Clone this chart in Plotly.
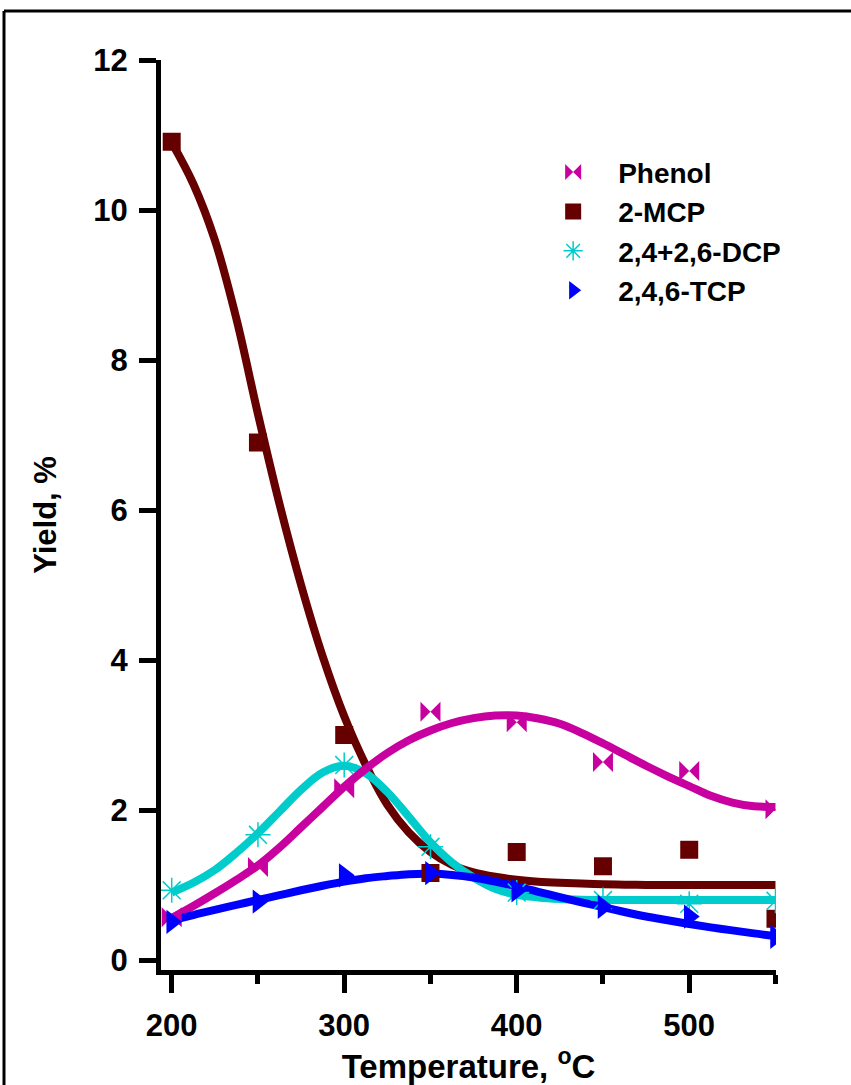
import plotly.graph_objects as go

# Measured yields (%) vs reactor temperature (deg C)
temps = [200, 250, 300, 350, 400, 450, 500, 550]
phenol = [0.57, 1.24, 2.29, 3.31, 3.17, 2.64, 2.52, 2.01]
mcp = [10.91, 6.90, 3.00, 1.16, 1.44, 1.25, 1.47, 0.55]
dcp = [0.93, 1.67, 2.60, 1.51, 0.90, 0.80, 0.75, 0.79]
tcp = [0.51, 0.78, 1.13, 1.16, 0.93, 0.71, 0.58, 0.31]

# Smoothed trend curves, sampled every 12.5 deg C
fit_t = [200, 212.5, 225, 237.5, 250, 262.5, 275, 287.5, 300, 312.5, 325, 337.5,
         350, 362.5, 375, 387.5, 400, 412.5, 425, 437.5, 450, 462.5, 475, 487.5,
         500, 512.5, 525, 537.5, 550]
phenol_fit = [0.56, 0.72, 0.89, 1.07, 1.26, 1.50, 1.77, 2.04, 2.31, 2.55, 2.76, 2.93,
              3.06, 3.16, 3.225, 3.26, 3.26, 3.22, 3.15, 3.03, 2.89, 2.74, 2.59, 2.45,
              2.32, 2.19, 2.10, 2.05, 2.04]
mcp_fit = [10.90, 10.35, 9.60, 8.55, 7.28, 6.08, 5.00, 4.05, 3.25, 2.60, 2.07, 1.70,
           1.44, 1.27, 1.17, 1.11, 1.07, 1.045, 1.03, 1.02, 1.01, 1.005, 1.0, 1.0,
           1.0, 1.0, 1.0, 1.0, 1.0]
dcp_fit = [0.90, 1.03, 1.20, 1.43, 1.69, 1.98, 2.27, 2.50, 2.59, 2.49, 2.24, 1.91,
           1.57, 1.30, 1.10, 0.95, 0.87, 0.835, 0.815, 0.805, 0.80, 0.80, 0.80, 0.80,
           0.80, 0.80, 0.80, 0.80, 0.80]
tcp_fit = [0.53, 0.60, 0.67, 0.735, 0.80, 0.865, 0.93, 0.99, 1.045, 1.09, 1.12, 1.145,
           1.15, 1.135, 1.10, 1.045, 0.98, 0.91, 0.84, 0.77, 0.705, 0.64, 0.58, 0.53,
           0.48, 0.435, 0.395, 0.355, 0.32]

names = ["Phenol", "2-MCP", "2,4+2,6-DCP", "2,4,6-TCP"]
colors = ["#C800A0", "#660000", "#00CCCC", "#0000FF"]

FONT = "Liberation Sans, Arial, sans-serif"

fig = go.Figure()

# trend lines (drawn first, underneath the markers)
for ys, c in [(mcp_fit, colors[1]), (dcp_fit, colors[2]),
              (phenol_fit, colors[0]), (tcp_fit, colors[3])]:
    fig.add_trace(go.Scatter(
        x=fit_t, y=ys, mode="lines", showlegend=False, hoverinfo="skip",
        line=dict(color=c, width=8, shape="spline", smoothing=1.0),
    ))

# data markers
marker_styles = [
    dict(symbol="bowtie", size=20, color=colors[0]),
    dict(symbol="square", size=18, color=colors[1]),
    dict(symbol="asterisk-open", size=21, color=colors[2], line=dict(color=colors[2], width=1.5)),
    dict(symbol="triangle-right", size=21, color=colors[3]),
]
for name, ys, ms in zip(names, [phenol, mcp, dcp, tcp], marker_styles):
    fig.add_trace(go.Scatter(x=temps, y=ys, mode="markers", name=name, marker=ms))

# outer frame of the figure (top and left edges)
W, H = 851, 1085
L, R, T, B = 161, 75, 60, 115
pw, ph = W - L - R, H - T - B
fx = (4 - L) / pw
fy = (H - B - 11) / ph
fig.add_shape(type="line", xref="paper", yref="paper",
              x0=fx, y0=fy, x1=(W + 5 - L) / pw, y1=fy,
              line=dict(color="black", width=3))
fig.add_shape(type="line", xref="paper", yref="paper",
              x0=fx, y0=fy, x1=fx, y1=(H - B - H - 5) / ph,
              line=dict(color="black", width=3))

fig.update_layout(
    width=W, height=H,
    margin=dict(l=L, r=R, t=T, b=B),
    paper_bgcolor="white", plot_bgcolor="white",
    font=dict(family=FONT, color="black"),
    showlegend=True,
    legend=dict(
        x=0.597, y=0.904, xanchor="left", yanchor="top",
        font=dict(family=FONT, size=28, weight="bold", color="black"),
        bgcolor="rgba(0,0,0,0)", itemwidth=80, tracegroupgap=0,
    ),
    xaxis=dict(
        range=[193.8, 550.3],
        tickvals=[200, 300, 400, 500],
        showline=True, linecolor="black", linewidth=5,
        ticks="outside", ticklen=18, tickwidth=5, tickcolor="black",
        tickfont=dict(family=FONT, size=31, weight="bold"),
        ticklabelstandoff=6,
        minor=dict(tickvals=[250, 350, 450, 550], ticks="outside",
                   ticklen=9, tickwidth=5, tickcolor="black"),
        showgrid=False, zeroline=False,
        title=dict(text="Temperature, <sup>o</sup>C", standoff=5,
                   font=dict(family=FONT, size=33, weight="bold")),
    ),
    yaxis=dict(
        range=[-0.133, 12],
        tickvals=[0, 2, 4, 6, 8, 10, 12],
        showline=True, linecolor="black", linewidth=5,
        ticks="outside", ticklen=17, tickwidth=5, tickcolor="black",
        tickfont=dict(family=FONT, size=31, weight="bold"),
        ticklabelstandoff=5,
        showgrid=False, zeroline=False,
        title=dict(text="Yield, %", standoff=29,
                   font=dict(family=FONT, size=31, weight="bold")),
    ),
)

fig.write_html("out.html")
